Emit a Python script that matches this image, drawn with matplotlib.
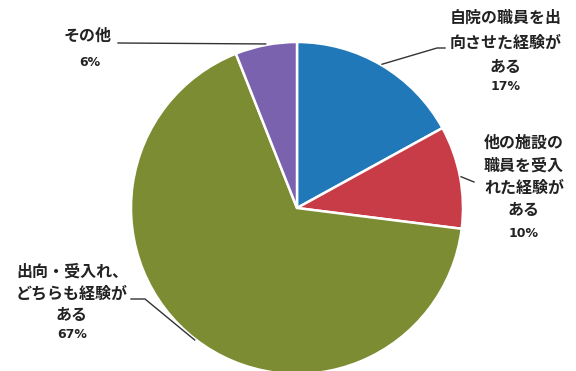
import numpy as np
import matplotlib
matplotlib.use("Agg")
import matplotlib.pyplot as plt

plt.rcParams['font.family'] = ['Noto Sans CJK JP', 'DejaVu Sans']

# Slice data, clockwise from 12 o'clock
categories = ["自院の職員を出\n向させた経験が\nある",
              "他の施設の\n職員を受入\nれた経験が\nある",
              "出向・受入れ、\nどちらも経験が\nある",
              "その他"]
values = [17, 10, 67, 6]
colors = ["#2178b8", "#c83c47", "#7b8c32", "#7b62ae"]

W, H = 576, 371
fig = plt.figure(figsize=(W / 100, H / 100), dpi=100)
ax = fig.add_axes([0, 0, 1, 1])

cx, cy, r = 297, H - 208, 166
wedges, _ = ax.pie(values, colors=colors, startangle=90, counterclock=False,
                   center=(cx, cy), radius=r,
                   wedgeprops=dict(edgecolor="white", linewidth=1.8))
ax.set_xlim(0, W)
ax.set_ylim(0, H)
ax.set_aspect('equal')
ax.axis('off')


def edge_point(i, rr=r + 1):
    w = wedges[i]
    ang = np.deg2rad((w.theta1 + w.theta2) / 2)
    return cx + rr * np.cos(ang), cy + rr * np.sin(ang)


def py(y):
    return H - y


# label text placement (x center, y of first line), percent offset, leader elbow
labels = [
    dict(x=506, y=18, step=24.5, pct=20, px=506, elbow=[(437, 48), (445, 48)]),
    dict(x=524, y=143, step=22.5, pct=23, px=524, elbow=[(474, 182)]),
    dict(x=72, y=272, step=21.5, pct=20, px=72, elbow=[(145, 299), (131, 299)]),
    dict(x=88, y=36, step=26, pct=26, px=90, elbow=[(118, 43)]),
]

for i, (cat, val, lab) in enumerate(zip(categories, values, labels)):
    lines = cat.split("\n")
    for k, line in enumerate(lines):
        ax.text(lab["x"], py(lab["y"] + k * lab["step"]), line,
                ha="center", va="center", fontsize=11.5, fontweight="bold",
                color="#222222")
    ax.text(lab["px"], py(lab["y"] + (len(lines) - 1) * lab["step"] + lab["pct"]),
            f"{val}%", ha="center", va="center", fontsize=9,
            fontweight="bold", color="#222222", family="DejaVu Sans")
    ex, ey = edge_point(i)
    pts = [(ex, ey)] + [(x, py(y)) for x, y in lab["elbow"]]
    xs, ys = zip(*pts)
    ax.plot(xs, ys, color="#333333", linewidth=1.0)

fig.savefig("out.png", dpi=100, facecolor="white")
